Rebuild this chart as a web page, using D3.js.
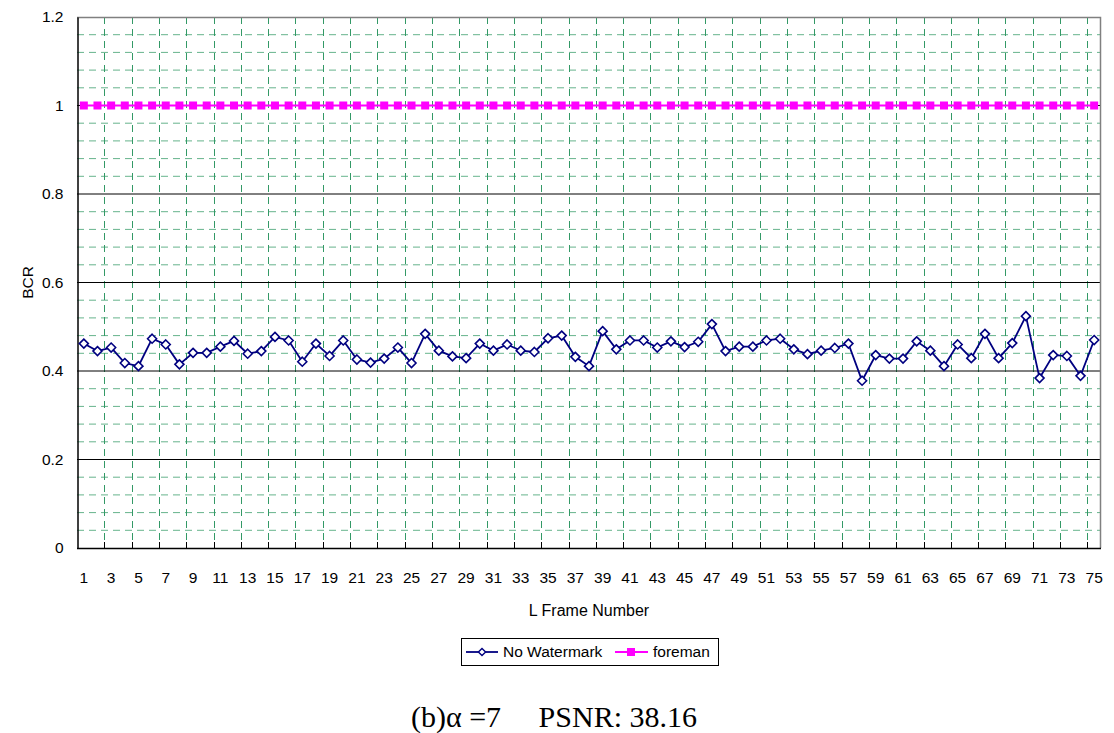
<!DOCTYPE html>
<html>
<head>
<meta charset="utf-8">
<script src="https://cdn.jsdelivr.net/npm/d3@7"></script>
<style>
  body { margin: 0; background: #fff; }
  svg text { font-family: Arial, "Liberation Sans", sans-serif; }
</style>
</head>
<body>
<div id="chart"></div>
<script>
// frame numbers on the category axis
var frames = d3.range(1, 76);
var yTicks = [0, 0.2, 0.4, 0.6, 0.8, 1, 1.2];

// BCR values
var noWatermark = [
  0.462, 0.445, 0.453, 0.418, 0.411, 0.473, 0.460, 0.415, 0.441, 0.441,
  0.455, 0.468, 0.439, 0.445, 0.477, 0.469, 0.421, 0.462, 0.434, 0.469,
  0.426, 0.419, 0.428, 0.453, 0.418, 0.484, 0.446, 0.433, 0.429, 0.462,
  0.446, 0.460, 0.446, 0.443, 0.474, 0.480, 0.432, 0.411, 0.490, 0.449,
  0.469, 0.469, 0.453, 0.467, 0.454, 0.466, 0.506, 0.445, 0.455, 0.455,
  0.469, 0.473, 0.449, 0.438, 0.446, 0.452, 0.462, 0.378, 0.436, 0.428,
  0.428, 0.467, 0.446, 0.411, 0.460, 0.429, 0.484, 0.429, 0.463, 0.524,
  0.384, 0.436, 0.434, 0.389, 0.470
];
var foreman = [
  1, 1, 1, 1, 1, 1, 1, 1, 1, 1, 1, 1, 1, 1, 1,
  1, 1, 1, 1, 1, 1, 1, 1, 1, 1, 1, 1, 1, 1, 1,
  1, 1, 1, 1, 1, 1, 1, 1, 1, 1, 1, 1, 1, 1, 1,
  1, 1, 1, 1, 1, 1, 1, 1, 1, 1, 1, 1, 1, 1, 1,
  1, 1, 1, 1, 1, 1, 1, 1, 1, 1, 1, 1, 1, 1, 1
];

const W = 1114, H = 733;
const plot = { left: 77, right: 1101, top: 17, bottom: 548 };

var svg = d3.select("#chart")
  .append("svg")
  .attr("width", W)
  .attr("height", H);

svg.append("rect")
  .attr("width", W).attr("height", H)
  .attr("fill", "#fff");

var x = d3.scaleBand()
  .domain(frames)
  .range([plot.left, plot.right])
  .padding(0);

var y = d3.scaleLinear()
  .domain([0, 1.2])
  .range([plot.bottom, plot.top]);

var cx = d => x(d) + x.bandwidth() / 2;

// minor dashed grid (every 0.04 and every 2 frames)
var minorY = d3.range(1, 30).filter(i => i % 5 !== 0).map(i => i * 0.04);
svg.append("g")
  .selectAll("line")
  .data(minorY)
  .enter().append("line")
  .attr("x1", plot.left).attr("x2", plot.right)
  .attr("y1", d => y(d)).attr("y2", d => y(d))
  .attr("stroke", "#339966")
  .attr("stroke-opacity", 0.75)
  .attr("stroke-dasharray", "7,5");

var gridFrames = frames.filter(d => d > 1 && d % 2 === 1);
svg.append("g")
  .selectAll("line")
  .data(gridFrames)
  .enter().append("line")
  .attr("x1", d => Math.round(x(d)) + 0.5).attr("x2", d => Math.round(x(d)) + 0.5)
  .attr("y1", plot.top).attr("y2", plot.bottom)
  .attr("stroke", "#339966")
  .attr("stroke-dasharray", "7,5");

// major gridlines
svg.append("g")
  .selectAll("line")
  .data(yTicks.filter(d => d > 0 && d < 1.2))
  .enter().append("line")
  .attr("x1", plot.left).attr("x2", plot.right)
  .attr("y1", d => y(d)).attr("y2", d => y(d))
  .attr("stroke", "#000")
  .attr("stroke-width", 1);

// plot border (top/right grey)
svg.append("path")
  .attr("d", `M${plot.left},${plot.top + 0.5}H${plot.right - 0.5}V${plot.bottom}`)
  .attr("fill", "none")
  .attr("stroke", "#808080")
  .attr("stroke-width", 1.5);

// y axis
var yAxis = svg.append("g")
  .attr("transform", `translate(${plot.left + 0.5},0)`)
  .call(d3.axisLeft(y).tickValues(yTicks).tickSize(0).tickPadding(14)
    .tickFormat(d => d3.format("")(+d.toFixed(1))));
yAxis.select(".domain").attr("stroke", "#000").attr("stroke-width", 1.5);
yAxis.selectAll("text")
  .attr("fill", "#000")
  .style("font-size", "15.5px")
  .style("font-family", "Arial, 'Liberation Sans', sans-serif");

// x axis: inside ticks every two frames, labels on odd frames
var xg = svg.append("g");
xg.selectAll("line")
  .data(gridFrames)
  .enter().append("line")
  .attr("x1", d => Math.round(x(d)) + 0.5).attr("x2", d => Math.round(x(d)) + 0.5)
  .attr("y1", plot.bottom).attr("y2", plot.bottom - 6)
  .attr("stroke", "#000");
xg.append("line")
  .attr("x1", plot.left).attr("x2", plot.right)
  .attr("y1", plot.bottom + 0.5).attr("y2", plot.bottom + 0.5)
  .attr("stroke", "#000").attr("stroke-width", 1.5);
xg.selectAll("text")
  .data(frames.filter(d => d % 2 === 1))
  .enter().append("text")
  .attr("x", d => cx(d))
  .attr("y", plot.bottom + 35)
  .attr("text-anchor", "middle")
  .style("font-size", "15.5px")
  .text(d => d);

// axis titles
svg.append("text")
  .attr("x", (plot.left + plot.right) / 2)
  .attr("y", 616)
  .attr("text-anchor", "middle")
  .style("font-size", "16px")
  .text("L Frame Number");

svg.append("text")
  .attr("transform", `translate(28,${(plot.top + plot.bottom) / 2}) rotate(-90)`)
  .attr("text-anchor", "middle")
  .attr("dy", "0.35em")
  .style("font-size", "15.5px")
  .text("BCR");

// series
var line = d3.line()
  .x((d, i) => cx(frames[i]))
  .y(d => y(d));

svg.append("path")
  .datum(foreman)
  .attr("d", line)
  .attr("fill", "none")
  .attr("stroke", "#ff00ff")
  .attr("stroke-width", 2);

svg.append("g")
  .selectAll("rect")
  .data(foreman)
  .enter().append("rect")
  .attr("x", (d, i) => cx(frames[i]) - 4)
  .attr("y", d => y(d) - 4)
  .attr("width", 8).attr("height", 8)
  .attr("fill", "#ff00ff");

svg.append("path")
  .datum(noWatermark)
  .attr("d", line)
  .attr("fill", "none")
  .attr("stroke", "#000080")
  .attr("stroke-width", 1.8);

var diamond = "M0,-4.5L4.5,0L0,4.5L-4.5,0Z";
svg.append("g")
  .selectAll("path")
  .data(noWatermark)
  .enter().append("path")
  .attr("d", diamond)
  .attr("transform", (d, i) => `translate(${cx(frames[i])},${y(d)})`)
  .attr("fill", "#fff")
  .attr("stroke", "#000080")
  .attr("stroke-width", 1.6);

// legend
var legend = svg.append("g").attr("transform", "translate(461,638)");
legend.append("rect")
  .attr("x", 0.5).attr("y", 0.5)
  .attr("width", 257).attr("height", 27)
  .attr("fill", "#fff")
  .attr("stroke", "#000");

legend.append("line")
  .attr("x1", 5).attr("x2", 37).attr("y1", 14).attr("y2", 14)
  .attr("stroke", "#000080").attr("stroke-width", 1.8);
legend.append("path")
  .attr("d", diamond)
  .attr("transform", "translate(21,14) scale(0.8)")
  .attr("fill", "#fff").attr("stroke", "#000080").attr("stroke-width", 1.8);
legend.append("text")
  .attr("x", 42).attr("y", 14).attr("dy", "0.35em")
  .style("font-size", "15.5px")
  .text("No Watermark");

legend.append("line")
  .attr("x1", 154).attr("x2", 187).attr("y1", 14).attr("y2", 14)
  .attr("stroke", "#ff00ff").attr("stroke-width", 2);
legend.append("rect")
  .attr("x", 166).attr("y", 10).attr("width", 8).attr("height", 8)
  .attr("fill", "#ff00ff");
legend.append("text")
  .attr("x", 192).attr("y", 14).attr("dy", "0.35em")
  .style("font-size", "15.5px")
  .text("foreman");

// caption under the chart
svg.append("text")
  .attr("x", 554)
  .attr("y", 727)
  .attr("text-anchor", "middle")
  .style("font-family", "'Times New Roman', 'Liberation Serif', serif")
  .style("font-size", "30px")
  .style("white-space", "pre")
  .text("(b)\u03b1 =7     PSNR: 38.16");
</script>
</body>
</html>
